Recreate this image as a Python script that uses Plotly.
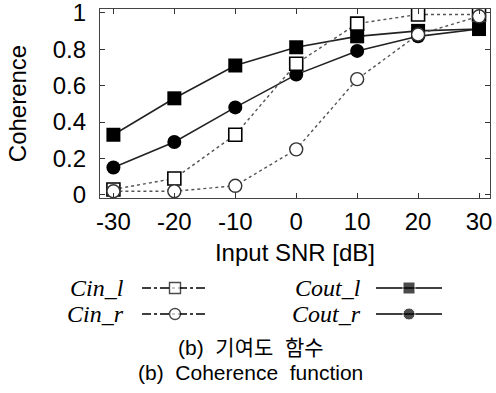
import plotly.graph_objects as go

snr = [-30, -20, -10, 0, 10, 20, 30]
cin_l = [0.03, 0.09, 0.33, 0.72, 0.94, 0.99, 0.99]
cin_r = [0.02, 0.02, 0.05, 0.25, 0.635, 0.88, 0.98]
cout_l = [0.33, 0.53, 0.71, 0.81, 0.87, 0.90, 0.91]
cout_r = [0.15, 0.29, 0.48, 0.66, 0.79, 0.87, 0.91]
y_ticks = [0, 0.2, 0.4, 0.6, 0.8, 1]
y_ticktext = ["0", "0.2", "0.4", "0.6", "0.8", "1"]
x_ticks = [-30, -20, -10, 0, 10, 20, 30]
x_ticktext = ["-30", "-20", "-10", "0", "10", "20", "30"]
names = ["Cin_l", "Cin_r", "Cout_l", "Cout_r"]

W, H = 496, 393
L, R, T, B = 100, 490, 9, 198

fig = go.Figure()

solid = dict(color="#222", width=1.6)
dotted = dict(color="#555", width=1.4, dash="dot")

fig.add_trace(go.Scatter(x=snr, y=cout_l, mode="lines+markers", line=solid,
                         marker=dict(symbol="square", size=14, color="black"), name=names[2]))
fig.add_trace(go.Scatter(x=snr, y=cout_r, mode="lines+markers", line=solid,
                         marker=dict(symbol="circle", size=14, color="black"), name=names[3]))
fig.add_trace(go.Scatter(x=snr, y=cin_l, mode="lines+markers", line=dotted,
                         marker=dict(symbol="square", size=13, color="white",
                                     line=dict(color="black", width=1.6)), name=names[0]))
fig.add_trace(go.Scatter(x=snr, y=cin_r, mode="lines+markers", line=dotted,
                         marker=dict(symbol="circle", size=13, color="white",
                                     line=dict(color="#333", width=1.4)), name=names[1]))

# legend samples on a pixel-coordinate overlay axis
leg_rows = [288, 314]
def leg_sample(xc, yc, symbol, filled):
    xs = [xc - 33, xc, xc + 33]
    ys = [yc, yc, yc]
    if filled:
        mk = dict(symbol=symbol, size=[0, 12, 0], color="black")
        ln = dict(color="black", width=1.6)
    else:
        mk = dict(symbol=symbol, size=[0, 11, 0], color="white", line=dict(color="black", width=1.4))
        ln = dict(color="black", width=1.3, dash="dashdot")
    fig.add_trace(go.Scatter(x=xs, y=ys, mode="lines+markers", line=ln, marker=mk,
                             xaxis="x2", yaxis="y2", showlegend=False, hoverinfo="skip"))

leg_sample(175, leg_rows[0], "square", False)
leg_sample(175, leg_rows[1], "circle", False)
leg_sample(409, leg_rows[0], "square", True)
leg_sample(409, leg_rows[1], "circle", True)

ann = []
leg_font = dict(family="Liberation Serif", size=24, color="black")
for nm, xr, yr in [(names[0], 126, leg_rows[0]), (names[1], 126, leg_rows[1]),
                   (names[2], 363, leg_rows[0]), (names[3], 363, leg_rows[1])]:
    ann.append(dict(x=xr, y=yr, xref="x2", yref="y2", text="<i>%s</i>" % nm,
                    showarrow=False, xanchor="right", yanchor="middle", font=leg_font))
cap_font = dict(family="Liberation Sans, Noto Sans CJK KR", size=21, color="black")
ann.append(dict(x=251, y=347, xref="x2", yref="y2", text="(b)  기여도  함수", showarrow=False,
                xanchor="center", yanchor="middle", font=cap_font))
ann.append(dict(x=250, y=372, xref="x2", yref="y2", text="(b)  Coherence  function", showarrow=False,
                xanchor="center", yanchor="middle", font=cap_font))

axfont = dict(family="Liberation Sans", size=24, color="black")
fig.update_layout(
    width=W, height=H,
    margin=dict(l=0, r=0, t=0, b=0),
    paper_bgcolor="white", plot_bgcolor="rgba(0,0,0,0)",
    showlegend=False,
    annotations=ann,
    xaxis=dict(domain=[L / W, R / W], range=[-32.2, 31.8], tickvals=x_ticks, ticktext=x_ticktext,
               ticks="inside", ticklen=5, tickcolor="#333", showline=True, linecolor="#444",
               linewidth=1.2, mirror="ticks", showgrid=False, zeroline=False,
               tickfont=axfont, ticklabelstandoff=2, ticklabeloverflow="allow",
               title=dict(text="Input SNR [dB]", font=axfont, standoff=10), automargin=False),
    yaxis=dict(domain=[(H - B) / H, (H - T) / H], range=[-0.017, 1.02], tickvals=y_ticks,
               ticktext=y_ticktext,
               ticks="inside", ticklen=5, tickcolor="#333", showline=True, linecolor="#444",
               linewidth=1.2, mirror="ticks", showgrid=False, zeroline=False,
               tickfont=axfont, ticklabelstandoff=8, ticklabeloverflow="allow",
               title=dict(text="Coherence", font=axfont, standoff=19), automargin=False),
    xaxis2=dict(domain=[0, 1], range=[0, W], visible=False, anchor="y2", fixedrange=True),
    yaxis2=dict(domain=[0, 1], range=[H, 0], visible=False, anchor="x2", fixedrange=True),
)

fig.write_html("out.html")
